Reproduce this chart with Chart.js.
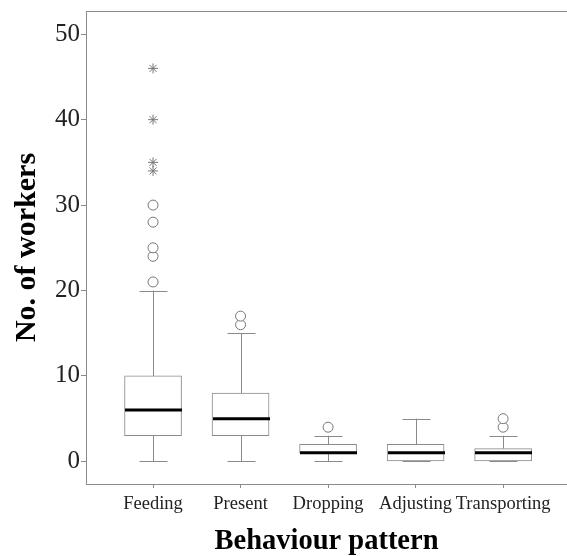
<!DOCTYPE html>
<html>
<head>
<meta charset="utf-8">
<script src="https://cdn.jsdelivr.net/npm/chart.js@4"></script>
<style>
  body { margin: 0; background: #fff; }
  #boxChart { display: block; }
</style>
</head>
<body>
<canvas id="boxChart" width="567" height="556"></canvas>
<script>
const categories = ['Feeding', 'Present', 'Dropping', 'Adjusting', 'Transporting'];
const minVals = [0, 0, 0, 0, 0];
const q1Vals = [3, 3, 1, 0, 0];
const medianVals = [6, 5, 1, 1, 1];
const q3Vals = [10, 8, 2, 2, 1.5];
const maxVals = [20, 15, 3, 5, 3];
const outlierVals = [[21, 24, 25, 28, 30], [16, 17], [4], [], [4, 5]];
const extremeVals = [[34, 35, 40, 46], [], [], [], []];
const yTicks = [0, 10, 20, 30, 40, 50];

const lineGray = '#8a8a8a';
const serif = "'Liberation Serif', 'Times New Roman', serif";

const boxData = categories.map((c, i) => ({ x: i + 1, y: [q1Vals[i], q3Vals[i]] }));
const outlierPoints = [];
outlierVals.forEach((arr, i) => arr.forEach(v => outlierPoints.push({ x: i + 1, y: v })));
const extremePoints = [];
extremeVals.forEach((arr, i) => arr.forEach(v => extremePoints.push({ x: i + 1, y: v })));

// whiskers, caps, medians and the top frame line
const boxExtras = {
    id: 'boxExtras',
    afterDatasetsDraw(chart) {
        const { ctx, scales: { x, y }, chartArea } = chart;
        ctx.save();
        ctx.strokeStyle = lineGray;
        ctx.lineWidth = 1;
        ctx.beginPath();
        ctx.moveTo(chartArea.left, chartArea.top + 0.5);
        ctx.lineTo(chart.width, chartArea.top + 0.5);
        ctx.stroke();

        categories.forEach((c, i) => {
            const cx = Math.round(x.getPixelForValue(i + 1)) + 0.5;
            const capHalf = 14;
            const boxHalf = 28.5;
            ctx.strokeStyle = lineGray;
            ctx.lineWidth = 1;
            ctx.beginPath();
            // upper whisker
            ctx.moveTo(cx, y.getPixelForValue(q3Vals[i]));
            ctx.lineTo(cx, y.getPixelForValue(maxVals[i]));
            ctx.moveTo(cx - capHalf, Math.round(y.getPixelForValue(maxVals[i])) + 0.5);
            ctx.lineTo(cx + capHalf, Math.round(y.getPixelForValue(maxVals[i])) + 0.5);
            // lower whisker
            ctx.moveTo(cx, y.getPixelForValue(q1Vals[i]));
            ctx.lineTo(cx, y.getPixelForValue(minVals[i]));
            ctx.moveTo(cx - capHalf, Math.round(y.getPixelForValue(minVals[i])) + 0.5);
            ctx.lineTo(cx + capHalf, Math.round(y.getPixelForValue(minVals[i])) + 0.5);
            ctx.stroke();

            // median
            ctx.strokeStyle = '#000';
            ctx.lineWidth = 3;
            ctx.beginPath();
            const my = y.getPixelForValue(medianVals[i]);
            ctx.moveTo(cx - boxHalf, my);
            ctx.lineTo(cx + boxHalf, my);
            ctx.stroke();
        });
        ctx.restore();
    }
};

new Chart(document.querySelector('#boxChart'), {
    type: 'bar',
    data: {
        datasets: [{
            type: 'bar',
            data: boxData,
            backgroundColor: '#ffffff',
            borderColor: lineGray,
            borderWidth: 1,
            borderSkipped: false,
            barThickness: 57
        }, {
            type: 'scatter',
            data: outlierPoints,
            pointStyle: 'circle',
            pointRadius: 5,
            pointBackgroundColor: '#ffffff',
            pointBorderColor: '#777',
            pointBorderWidth: 1
        }, {
            type: 'scatter',
            data: extremePoints,
            pointStyle: 'star',
            pointRadius: 5,
            pointBorderColor: '#777',
            pointBorderWidth: 1
        }]
    },
    options: {
        responsive: false,
        animation: false,
        layout: { autoPadding: false, padding: { top: 10, right: 0, left: 0, bottom: 0 } },
        plugins: { legend: { display: false }, tooltip: { enabled: false } },
        scales: {
            x: {
                type: 'linear',
                offset: false,
                min: 0.234,
                max: 5.73,
                afterBuildTicks: (scale) => {
                    scale.ticks = categories.map((c, i) => ({ value: i + 1 }));
                },
                afterFit: (scale) => { scale.height = 72; },
                grid: { offset: false, drawOnChartArea: false, drawTicks: true, tickLength: 4, color: lineGray },
                border: { display: true, color: lineGray },
                ticks: {
                    autoSkip: false,
                    maxRotation: 0,
                    padding: 5,
                    color: '#222',
                    font: { family: serif, size: 18.5 },
                    callback: (v) => categories[Math.round(v) - 1]
                },
                title: {
                    display: true,
                    text: 'Behaviour pattern',
                    color: '#000',
                    font: { family: serif, size: 28.5, weight: 'bold' },
                    padding: { top: 0, bottom: -3 }
                }
            },
            y: {
                type: 'linear',
                min: -2.65,
                max: 52.72,
                afterBuildTicks: (scale) => {
                    scale.ticks = yTicks.map(v => ({ value: v }));
                },
                afterFit: (scale) => { scale.width = 86; },
                grid: { drawOnChartArea: false, drawTicks: true, tickLength: 5, color: lineGray },
                border: { display: true, color: lineGray },
                ticks: {
                    padding: 1,
                    color: '#222',
                    font: { family: serif, size: 25, lineHeight: 0.8 }
                },
                title: {
                    display: true,
                    text: 'No. of workers',
                    color: '#000',
                    font: { family: serif, size: 30, weight: 'bold' },
                    padding: { top: 9, bottom: 0 }
                }
            }
        }
    },
    plugins: [boxExtras]
});
</script>
</body>
</html>
